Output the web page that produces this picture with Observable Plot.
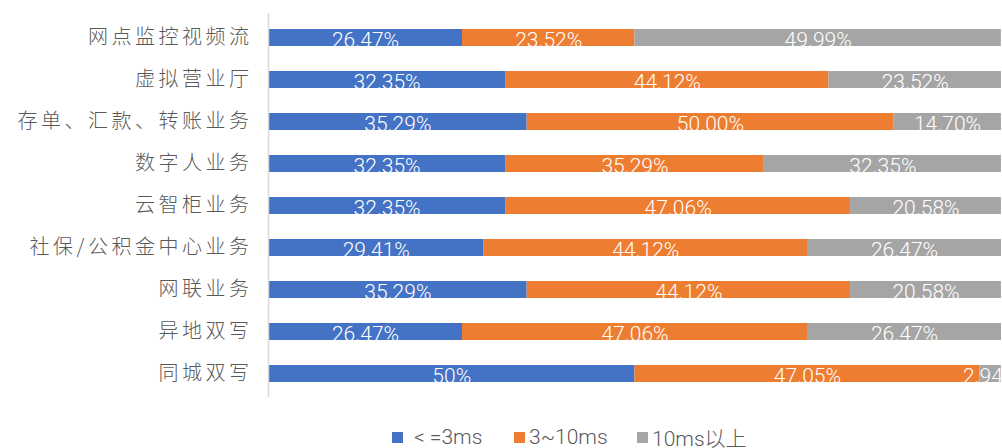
<!DOCTYPE html>
<html>
<head>
<meta charset="utf-8">
<script src="https://cdn.jsdelivr.net/npm/d3@7"></script>
<script src="https://cdn.jsdelivr.net/npm/@observablehq/plot@0.6"></script>
<style>
  html, body { margin: 0; padding: 0; background: #fff; overflow: hidden; width: 1002px; height: 448px; }
  #chart svg { display: block; }
  .legend { position: relative; height: 26px;
            font-family: "Roboto", "Noto Sans CJK SC", sans-serif; font-weight: 300; font-size: 21px; color: #595959; }
  .legend .item { position: absolute; top: 0; height: 26px; display: flex; align-items: center; white-space: nowrap; }
  .legend .sw { width: 11px; height: 11px; margin-right: 4px; flex: none; }
  .legend .item:first-child span { padding-left: 7px; }
</style>
</head>
<body>
<div id="chart"></div>
<script>
const categories = ["网点监控视频流", "虚拟营业厅", "存单、汇款、转账业务", "数字人业务", "云智柜业务", "社保/公积金中心业务", "网联业务", "异地双写", "同城双写"];
const seriesNames = ["< =3ms", "3~10ms", "10ms以上"];
const seriesColors = ["#4472C4", "#ED7D31", "#A5A5A5"];
const le3 = [26.47, 32.35, 35.29, 32.35, 32.35, 29.41, 35.29, 26.47, 50];
const mid = [23.52, 44.12, 50.00, 35.29, 47.06, 44.12, 44.12, 47.06, 47.05];
const gt10 = [49.99, 23.52, 14.70, 32.35, 20.58, 26.47, 20.58, 26.47, 2.94];
const le3Labels = ["26.47%", "32.35%", "35.29%", "32.35%", "32.35%", "29.41%", "35.29%", "26.47%", "50%"];
const midLabels = ["23.52%", "44.12%", "50.00%", "35.29%", "47.06%", "44.12%", "44.12%", "47.06%", "47.05%"];
const gt10Labels = ["49.99%", "23.52%", "14.70%", "32.35%", "20.58%", "26.47%", "20.58%", "26.47%", "2.94%"];
const legendLeft = [392, 514, 637];

const seriesValues = [le3, mid, gt10];
const seriesLabels = [le3Labels, midLabels, gt10Labels];
const data = [];
seriesNames.forEach((s, si) => {
  categories.forEach((c, ci) => {
    data.push({cat: c, series: s, value: seriesValues[si][ci], label: seriesLabels[si][ci]});
  });
});

const plot = Plot.plot({
  width: 1002,
  height: 424,
  marginLeft: 268,
  marginRight: 1,
  marginTop: 13,
  marginBottom: 27,
  x: {domain: [0, 100], axis: null},
  y: {domain: categories, paddingInner: 0.6, paddingOuter: 0.3, label: null, tickSize: 0, tickPadding: 16},
  color: {domain: seriesNames, range: seriesColors},
  style: {fontFamily: "'Noto Sans CJK SC', sans-serif", background: "white", overflow: "visible"},
  marks: [
    Plot.barX(data, {x: "value", y: "cat", fill: "series", order: seriesNames}),
    Plot.textX(data, Plot.stackX({x: "value", y: "cat", z: "series", order: seriesNames, text: "label",
      fill: "white", fontSize: 21, fontFamily: "Roboto", fontWeight: 300, dy: 2})),
    Plot.ruleX([0], {stroke: "#d9d9d9", strokeWidth: 1.5})
  ]
});
document.getElementById("chart").appendChild(plot);
plot.querySelectorAll('g[aria-label^="y-axis"] text').forEach(t => {
  t.style.fontSize = "20px";
  t.style.letterSpacing = "3.5px";
  t.style.fill = "#595959";
  t.style.fontFamily = "'Noto Sans CJK SC', sans-serif";
  t.style.fontWeight = "300";
});

const legend = document.createElement("div");
legend.className = "legend";
seriesNames.forEach((s, i) => {
  const item = document.createElement("div");
  item.className = "item";
  item.style.left = legendLeft[i] + "px";
  const sw = document.createElement("div");
  sw.className = "sw";
  sw.style.background = seriesColors[i];
  const tx = document.createElement("span");
  tx.textContent = s;
  item.appendChild(sw);
  item.appendChild(tx);
  legend.appendChild(item);
});
document.getElementById("chart").appendChild(legend);
</script>
</body>
</html>
